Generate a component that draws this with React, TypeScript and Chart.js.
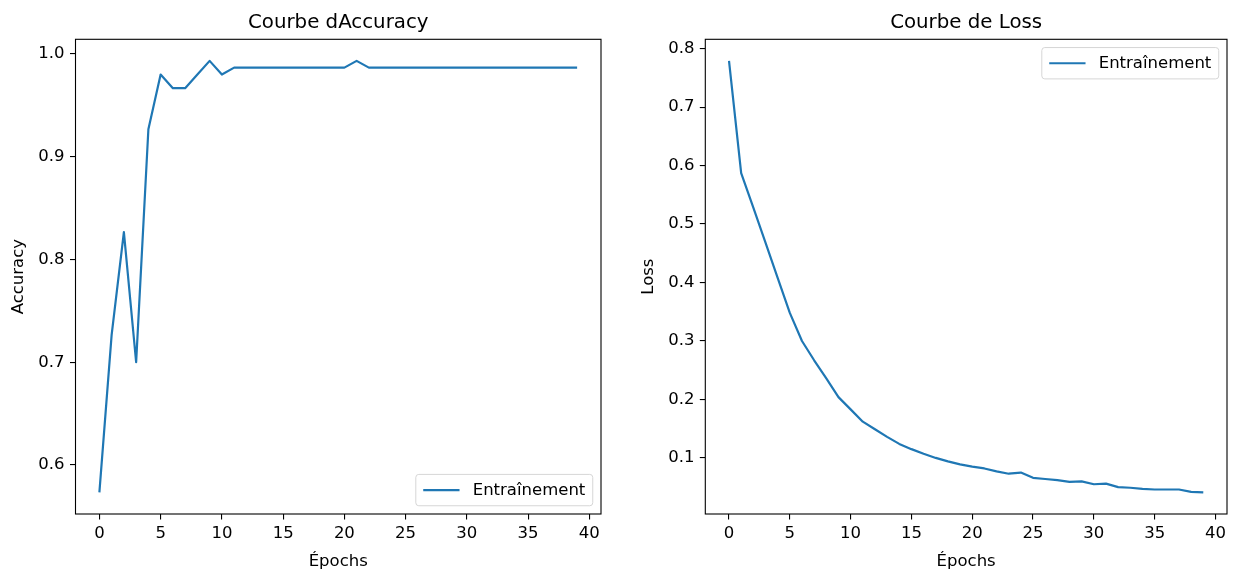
import React, { useEffect, useRef } from "react";
import { Chart, registerables } from "chart.js";

Chart.register(...registerables);

// ---- data ----
const epochs = [
  0, 1, 2, 3, 4, 5, 6, 7, 8, 9,
  10, 11, 12, 13, 14, 15, 16, 17, 18, 19,
  20, 21, 22, 23, 24, 25, 26, 27, 28, 29,
  30, 31, 32, 33, 34, 35, 36, 37, 38, 39,
];

const trainAccuracy = [
  0.5733, 0.7267, 0.8267, 0.7, 0.9267, 0.98, 0.9667, 0.9667, 0.98, 0.9933,
  0.98, 0.9867, 0.9867, 0.9867, 0.9867, 0.9867, 0.9867, 0.9867, 0.9867, 0.9867,
  0.9867, 0.9933, 0.9867, 0.9867, 0.9867, 0.9867, 0.9867, 0.9867, 0.9867, 0.9867,
  0.9867, 0.9867, 0.9867, 0.9867, 0.9867, 0.9867, 0.9867, 0.9867, 0.9867, 0.9867,
];

const trainLoss = [
  0.779, 0.587, 0.528, 0.468, 0.408, 0.348, 0.3, 0.267, 0.236, 0.204,
  0.183, 0.162, 0.149, 0.136, 0.124, 0.115, 0.107, 0.1, 0.094, 0.089,
  0.085, 0.082, 0.077, 0.073, 0.075, 0.066, 0.064, 0.062, 0.059, 0.06,
  0.055, 0.056, 0.05, 0.049, 0.047, 0.046, 0.046, 0.046, 0.042, 0.041,
];

const epochTicks = [0, 5, 10, 15, 20, 25, 30, 35, 40];
const accuracyTicks = [0.6, 0.7, 0.8, 0.9, 1.0];
const lossTicks = [0.1, 0.2, 0.3, 0.4, 0.5, 0.6, 0.7, 0.8];

const seriesLabel = "Entraînement";
const accuracyTitle = "Courbe dAccuracy";
const lossTitle = "Courbe de Loss";
const epochAxisLabel = "Épochs";
const accuracyAxisLabel = "Accuracy";
const lossAxisLabel = "Loss";

// ---- styling ----
const FONT_FAMILY = "'DejaVu Sans', sans-serif";
const TEXT_SIZE = 16.5;
const TITLE_SIZE = 19.8;
const LINE_COLOR = "#1f77b4";
const FIG_W = 1237;
const FIG_H = 574;
const AREA_TOP = 39.3;
const AREA_BOTTOM = 514;

// data limits with a 5% margin on each side
function paddedRange(values: number[]): [number, number] {
  const lo = Math.min(...values);
  const hi = Math.max(...values);
  const m = (hi - lo) * 0.05;
  return [lo - m, hi + m];
}

// black frame around the plotting area
const framePlugin = {
  id: "frame",
  afterDatasetsDraw(chart: any) {
    const { ctx, chartArea: a } = chart;
    ctx.save();
    ctx.strokeStyle = "#000";
    ctx.lineWidth = 1.1;
    ctx.strokeRect(a.left, a.top, a.right - a.left, a.bottom - a.top);
    ctx.restore();
  },
};

// title centred over the plotting area
const panelTitlePlugin = {
  id: "panelTitle",
  afterDraw(chart: any, _args: any, opts: any) {
    const { ctx, chartArea: a } = chart;
    ctx.save();
    ctx.font = `${TITLE_SIZE}px ${FONT_FAMILY}`;
    ctx.fillStyle = "#000";
    ctx.textAlign = "center";
    ctx.textBaseline = "alphabetic";
    ctx.fillText(opts.text, (a.left + a.right) / 2, a.top - opts.gap);
    ctx.restore();
  },
};

// legend box placed inside a corner of the plotting area
const cornerLegendPlugin = {
  id: "cornerLegend",
  afterDraw(chart: any, _args: any, opts: any) {
    const { ctx, chartArea: a } = chart;
    const ds = chart.data.datasets[0];
    const fs = TEXT_SIZE;
    ctx.save();
    ctx.font = `${fs}px ${FONT_FAMILY}`;
    const textW = ctx.measureText(ds.label).width;
    const pad = 0.45 * fs;
    const handle = 2.2 * fs;
    const gap = 0.8 * fs;
    const w = pad * 2 + handle + gap + textW;
    const h = 1.9 * fs;
    const inset = 0.5 * fs;
    const x = a.right - inset - w;
    const y = opts.corner === "bottom" ? a.bottom - inset - h : a.top + inset;
    ctx.beginPath();
    ctx.roundRect(x, y, w, h, 3);
    ctx.fillStyle = "rgba(255,255,255,0.8)";
    ctx.fill();
    ctx.strokeStyle = "#d6d6d6";
    ctx.lineWidth = 1;
    ctx.stroke();
    const cy = y + h / 2;
    ctx.beginPath();
    ctx.moveTo(x + pad, cy);
    ctx.lineTo(x + pad + handle, cy);
    ctx.strokeStyle = ds.borderColor;
    ctx.lineWidth = ds.borderWidth;
    ctx.stroke();
    ctx.fillStyle = "#000";
    ctx.textAlign = "left";
    ctx.textBaseline = "middle";
    ctx.fillText(ds.label, x + pad + handle + gap, cy + 0.5);
    ctx.restore();
  },
};

type PanelProps = {
  left: number;
  width: number;
  values: number[];
  yTicks: number[];
  title: string;
  yLabel: string;
  yAxisWidth: number;
  padRight: number;
  yTitleOffset: number;
  legendCorner: "top" | "bottom";
};

function Panel(p: PanelProps) {
  const ref = useRef<HTMLCanvasElement>(null);

  useEffect(() => {
    if (!ref.current) return;
    const [xMin, xMax] = paddedRange(epochs);
    const [yMin, yMax] = paddedRange(p.values);
    const font = { family: FONT_FAMILY, size: TEXT_SIZE, lineHeight: 1.2 };
    const tickGrid = {
      drawOnChartArea: false,
      drawTicks: true,
      tickLength: 5.5,
      color: "#000",
      lineWidth: 1.1,
    };

    const chart = new Chart(ref.current, {
      type: "line",
      data: {
        datasets: [
          {
            label: seriesLabel,
            data: epochs.map((e, i) => ({ x: e, y: p.values[i] })),
            borderColor: LINE_COLOR,
            backgroundColor: LINE_COLOR,
            borderWidth: 2.2,
            pointRadius: 0,
            tension: 0,
            fill: false,
            borderJoinStyle: "round",
          },
        ],
      },
      options: {
        animation: false,
        responsive: false,
        devicePixelRatio: 1,
        events: [],
        layout: {
          padding: { left: 0, right: p.padRight, top: AREA_TOP, bottom: 0 },
        },
        plugins: {
          legend: { display: false },
          tooltip: { enabled: false },
          title: { display: false },
          panelTitle: { text: p.title, gap: 11 },
          cornerLegend: { corner: p.legendCorner },
        } as any,
        scales: {
          x: {
            type: "linear",
            min: xMin,
            max: xMax,
            afterBuildTicks: (axis: any) => {
              axis.ticks = epochTicks.map((v) => ({ value: v }));
            },
            afterFit: (scale: any) => {
              scale.height = FIG_H - AREA_BOTTOM;
            },
            ticks: {
              color: "#000",
              font,
              padding: 4.5,
              maxRotation: 0,
              autoSkip: false,
              callback: (v: any) => String(v),
            },
            grid: tickGrid,
            border: { display: false },
            title: {
              display: true,
              text: epochAxisLabel,
              color: "#000",
              font,
              padding: { top: 0, bottom: 2.5 },
            },
          },
          y: {
            type: "linear",
            min: yMin,
            max: yMax,
            afterBuildTicks: (axis: any) => {
              axis.ticks = p.yTicks.map((v) => ({ value: v }));
            },
            afterFit: (scale: any) => {
              scale.width = p.yAxisWidth;
            },
            ticks: {
              color: "#000",
              font,
              padding: 5.4,
              autoSkip: false,
              callback: (v: any) => Number(v).toFixed(1),
            },
            grid: tickGrid,
            border: { display: false },
            title: {
              display: true,
              text: p.yLabel,
              color: "#000",
              font,
              padding: { top: p.yTitleOffset, bottom: 0 },
            },
          },
        },
      } as any,
      plugins: [framePlugin, panelTitlePlugin, cornerLegendPlugin],
    });

    return () => chart.destroy();
  }, []);

  return (
    <div
      style={{
        position: "absolute",
        left: p.left,
        top: 0,
        width: p.width,
        height: FIG_H,
      }}
    >
      <canvas
        ref={ref}
        width={p.width}
        height={FIG_H}
        style={{ display: "block", width: p.width, height: FIG_H }}
      />
    </div>
  );
}

export default function App() {
  return (
    <div
      style={{
        position: "fixed",
        left: 0,
        top: 0,
        width: FIG_W,
        height: FIG_H,
        background: "#fff",
        overflow: "hidden",
      }}
    >
      <Panel
        left={0}
        width={615}
        values={trainAccuracy}
        yTicks={accuracyTicks}
        title={accuracyTitle}
        yLabel={accuracyAxisLabel}
        yAxisWidth={75.5}
        padRight={14}
        yTitleOffset={9}
        legendCorner="bottom"
      />
      <Panel
        left={620}
        width={617}
        values={trainLoss}
        yTicks={lossTicks}
        title={lossTitle}
        yLabel={lossAxisLabel}
        yAxisWidth={85.3}
        padRight={10}
        yTitleOffset={19}
        legendCorner="top"
      />
    </div>
  );
}
